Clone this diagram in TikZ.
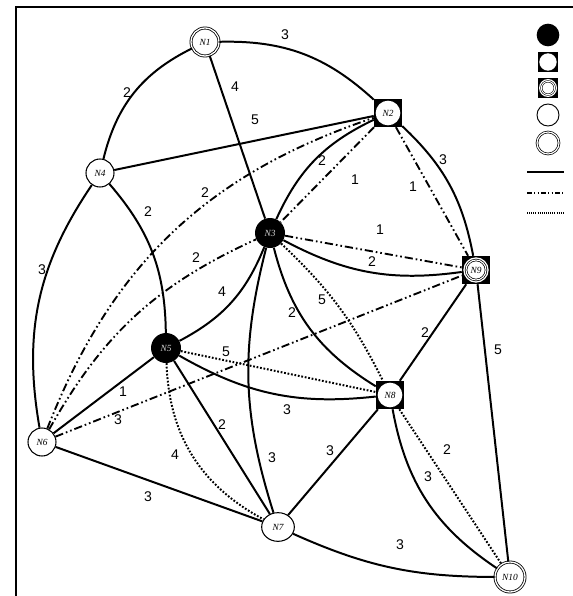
\documentclass[tikz,border=0pt]{standalone}
\usepackage{fontspec}
\setmainfont{Liberation Serif}
\newfontfamily\numfont{Liberation Sans}
\usetikzlibrary{shapes.geometric}

\tikzset{
  nd/.style={circle, minimum size=0.84cm, inner sep=0pt, font=\fontsize{8}{9}\selectfont\itshape},
  blk/.style={nd, fill=black, minimum size=0.9cm, text=gray!35},
  wht/.style={nd, draw, line width=0.9pt, fill=white},
  dbl/.style={nd, draw, double, double distance=1.1pt, line width=0.7pt, fill=white},
  sqw/.style={rectangle, fill=black, minimum size=0.84cm, inner sep=0pt,
    font=\fontsize{8}{9}\selectfont\itshape,
    path picture={\fill[white] (path picture bounding box.center) circle (0.37cm);}},
  sqd/.style={rectangle, fill=black, minimum size=0.84cm, inner sep=0pt,
    font=\fontsize{8}{9}\selectfont\itshape,
    path picture={\fill[white] (path picture bounding box.center) circle (0.38cm);
      \draw[double, double distance=0.9pt, line width=0.6pt] (path picture bounding box.center) circle (0.3cm);}},
  ln/.style={line width=1.7pt},
  dd/.style={line width=1.6pt, dash pattern=on 7pt off 2.5pt on 1.4pt off 2.5pt on 1.4pt off 2.5pt},
  dt/.style={line width=1.7pt, dash pattern=on 1.5pt off 1.5pt},
  lbl/.style={font=\numfont\fontsize{12}{14}\selectfont, inner sep=1pt}
}

\begin{document}
\begin{tikzpicture}[x=0.03cm, y=-0.03cm]
  \useasboundingbox (0,0) rectangle (573,596);
  % frame
  \draw[line width=1.6pt] (16,596) -- (16,7) -- (573,7);

  % nodes
  \node[dbl] (N1) at (205,42) {N1};
  \node[sqw] (N2) at (388,113) {N2};
  \node[blk] (N3) at (270,233) {N3};
  \node[wht] (N4) at (100,173) {N4};
  \node[blk] (N5) at (166,348) {N5};
  \node[wht] (N6) at (42,442) {N6};
  \node[wht, ellipse, minimum width=0.98cm, minimum height=0.86cm] (N7) at (278,527) {N7};
  \node[sqw] (N8) at (390,395) {N8};
  \node[sqd] (N9) at (476,270) {N9};
  \node[dbl, minimum size=0.9cm] (N10) at (510,577) {N10};

  % solid
  \draw[ln] (N4) to[bend left=25] (N1);
  \draw[ln] (N1) to[bend left=22] (N2);
  \draw[ln] (N1) -- (N3);
  \draw[ln] (N4) -- (N2);
  \draw[ln] (N4) to[bend right=22] (N6);
  \draw[ln] (N4) to[bend left=20] (N5);
  \draw[ln] (N3) to[bend left=20] (N2);
  \draw[ln] (N2) to[bend left=18] (N9);
  \draw[ln] (N3) to[bend right=18] (N9);
  \draw[ln] (N5) to[bend right=20] (N3);
  \draw[ln] (N3) to[bend right=16] (N7);
  \draw[ln] (N3) to[bend right=22] (N8);
  \draw[ln] (N5) to[bend right=18] (N8);
  \draw[ln] (N5) -- (N6);
  \draw[ln] (N5) -- (N7);
  \draw[ln] (N6) -- (N7);
  \draw[ln] (N7) -- (N8);
  \draw[ln] (N8) -- (N9);
  \draw[ln] (N9) -- (N10);
  \draw[ln] (N7) to[bend right=12] (N10);
  \draw[ln] (N8) to[bend right=23] (N10);

  % dash-dot
  \draw[dd] (N2) -- (N3);
  \draw[dd] (N2) -- (N9);
  \draw[dd] (N3) -- (N9);
  \draw[dd] (N6) -- (N9);
  \draw[dd] (N6) to[bend left=25] (N2);
  \draw[dd] (N6) to[bend left=18] (N3);

  % dotted
  \draw[dt] (N3) to[bend left=10] (N8);
  \draw[dt] (N5) -- (N8);
  \draw[dt] (N5) to[bend right=30] (N7);
  \draw[dt] (N8) -- (N10);

  % weights
  \node[lbl] at (285,35) {3};
  \node[lbl] at (127,93) {2};
  \node[lbl] at (235,87) {4};
  \node[lbl] at (255,120) {5};
  \node[lbl] at (148,212) {2};
  \node[lbl] at (42,270) {3};
  \node[lbl] at (322,161) {2};
  \node[lbl] at (355,180) {1};
  \node[lbl] at (443,160) {3};
  \node[lbl] at (413,187) {1};
  \node[lbl] at (205,193) {2};
  \node[lbl] at (196,258) {2};
  \node[lbl] at (380,230) {1};
  \node[lbl] at (372,262) {2};
  \node[lbl] at (222,292) {4};
  \node[lbl] at (292,313) {2};
  \node[lbl] at (322,300) {5};
  \node[lbl] at (226,352) {5};
  \node[lbl] at (287,410) {3};
  \node[lbl] at (123,392) {1};
  \node[lbl] at (118,420) {3};
  \node[lbl] at (222,425) {2};
  \node[lbl] at (175,455) {4};
  \node[lbl] at (272,458) {3};
  \node[lbl] at (148,497) {3};
  \node[lbl] at (330,451) {3};
  \node[lbl] at (400,545) {3};
  \node[lbl] at (447,450) {2};
  \node[lbl] at (428,477) {3};
  \node[lbl] at (425,333) {2};
  \node[lbl] at (498,350) {5};

  % legend
  \node[circle, fill=black, minimum size=0.68cm, inner sep=0pt] (kB) at (548,35) {};
  \node[sqw, minimum size=0.6cm, path picture={\fill[white] (path picture bounding box.center) circle (0.26cm);}] (kS) at (548,62) {};
  \node[sqd, minimum size=0.6cm, path picture={\fill[white] (path picture bounding box.center) circle (0.27cm);
      \draw[double, double distance=0.8pt, line width=0.5pt] (path picture bounding box.center) circle (0.2cm);}] (kD) at (548,88) {};
  \node[circle, draw, line width=0.8pt, minimum size=0.66cm, inner sep=0pt] (kW) at (548,115) {};
  \node[circle, draw, double, double distance=1pt, line width=0.6pt, minimum size=0.66cm, inner sep=0pt] (kO) at (548,143) {};
  \coordinate (kL1) at (527,172); \coordinate (kR1) at (564,172);
  \coordinate (kL2) at (527,193); \coordinate (kR2) at (564,193);
  \coordinate (kL3) at (527,213); \coordinate (kR3) at (564,213);
  \draw[line width=1pt] (kL1) -- (kR1);
  \draw[line width=1pt, dash pattern=on 4pt off 2pt on 1pt off 2pt on 1pt off 2pt] (kL2) -- (kR2);
  \draw[line width=1pt, dash pattern=on 0.8pt off 1pt] (kL3) -- (kR3);
\end{tikzpicture}
\end{document}
